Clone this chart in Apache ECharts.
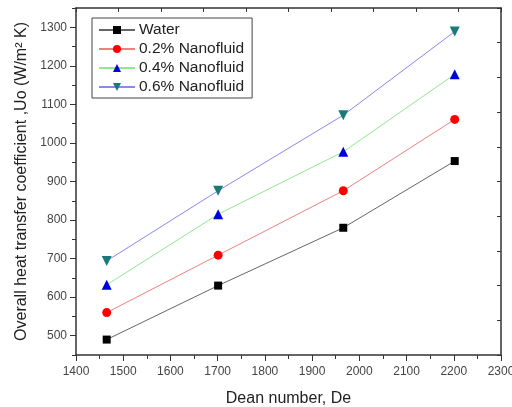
<!DOCTYPE html>
<html><head><meta charset="utf-8">
<script src="https://cdn.jsdelivr.net/npm/echarts@6/dist/echarts.min.js"></script>
<style>html,body{margin:0;padding:0;background:#fff}#c{width:512px;height:407px}</style>
</head><body><div id="c"></div>
<script>
const deanNumbers = [1465, 1701, 1966, 2202];
const water = [490, 630, 780, 953];
const nano02 = [560, 709, 876, 1061];
const nano04 = [632, 815, 977, 1178];
const nano06 = [694, 876, 1072, 1289];
const seriesNames = ['Water', '0.2% Nanofluid', '0.4% Nanofluid', '0.6% Nanofluid'];
const yMajorTicks = [500, 600, 700, 800, 900, 1000, 1100, 1200, 1300];

const font = 'Liberation Sans, Arial, sans-serif';
const axisCol = '#333';
function pts(ys){ return deanNumbers.map((x,i)=>[x, ys[i]]); }
function mk(name, ys, lineColor, symbol, symColor, rot, size){
  return {name, type:'line', data:pts(ys), symbol, symbolSize:size, symbolRotate:rot,
    xAxisIndex:0, yAxisIndex:0,
    lineStyle:{color:lineColor, width:1}, itemStyle:{color:symColor, borderWidth:0}, emphasis:{disabled:true}};
}
const chart = echarts.init(document.getElementById('c'), null, {renderer:'canvas'});
chart.setOption({
  animation:false,
  backgroundColor:'#fff',
  grid:{left:76, right:11, top:8, bottom:52, containLabel:false, outerBoundsMode:'none'},
  legend:{
    left:92, top:18, orient:'vertical', itemWidth:36, itemHeight:10, itemGap:3,
    padding:[4,8,3,6], borderColor:'#444', borderWidth:1,
    textStyle:{fontFamily:font, fontSize:15.5, color:'#222', padding:[0,0,0,-1]},
    data:seriesNames
  },
  xAxis:[{
    type:'value', min:1400, max:2300, interval:100,
    name:'Dean number, De', nameLocation:'middle', nameGap:36,
    nameTextStyle:{fontFamily:font, fontSize:16, color:'#222'},
    axisLine:{lineStyle:{color:axisCol, width:1.5}},
    axisTick:{inside:false, length:6, lineStyle:{color:axisCol}},
    minorTick:{show:true, splitNumber:2, length:4, lineStyle:{color:axisCol}},
    axisLabel:{fontFamily:font, fontSize:12, color:'#444', margin:11, formatter:v=>String(v)},
    splitLine:{show:false}
  },{
    type:'value', position:'top', min:0, max:10, interval:1,
    axisLine:{onZero:false, lineStyle:{color:axisCol, width:1.5}},
    axisTick:{inside:true, length:4, lineStyle:{color:axisCol}},
    axisLabel:{show:false}, splitLine:{show:false}
  }],
  yAxis:[{
    type:'value', min:450, max:1350,
    name:'Overall heat transfer coefficient ,Uo (W/m² K)', nameLocation:'middle', nameGap:46,
    nameTextStyle:{fontFamily:font, fontSize:16, color:'#222'},
    axisLine:{show:true, lineStyle:{color:axisCol, width:1.5}},
    axisTick:{show:true, inside:false, length:6, customValues:yMajorTicks, lineStyle:{color:axisCol}},
    axisLabel:{fontFamily:font, fontSize:12, color:'#444', margin:9, customValues:yMajorTicks,
      formatter:v=>String(v)},
    splitLine:{show:false}
  },{
    type:'value', position:'left', min:450, max:1350, interval:50,
    axisLine:{show:false, onZero:false},
    axisTick:{show:true, inside:false, length:4, lineStyle:{color:axisCol}},
    axisLabel:{show:false}, splitLine:{show:false}
  },{
    type:'value', position:'right', min:0, max:10, interval:1,
    axisLine:{show:true, onZero:false, lineStyle:{color:axisCol, width:1.5}},
    axisTick:{show:true, inside:true, length:4, lineStyle:{color:axisCol}},
    axisLabel:{show:false}, splitLine:{show:false}
  }],
  series:[
    mk(seriesNames[0], water, '#666', 'rect', '#000', 0, 8),
    mk(seriesNames[1], nano02, '#f08080', 'circle', '#f00', 0, 9),
    mk(seriesNames[2], nano04, '#90e890', 'triangle', '#0000e0', 0, 10),
    mk(seriesNames[3], nano06, '#8888ee', 'triangle', '#1a7a7a', 180, 10)
  ]
});
</script></body></html>
